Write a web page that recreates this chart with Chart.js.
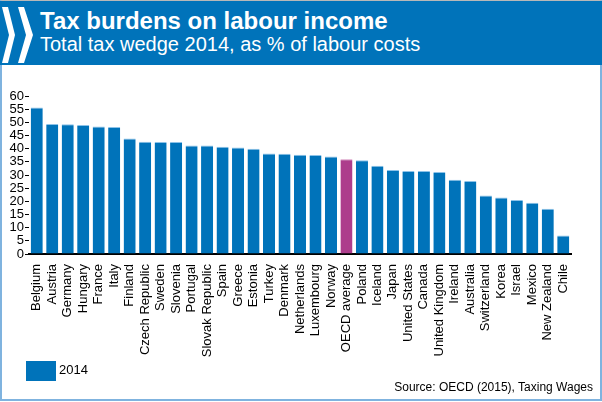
<!DOCTYPE html>
<html>
<head>
<meta charset="utf-8">
<script src="https://cdn.jsdelivr.net/npm/chart.js@4"></script>
<style>
  body { margin: 0; background: #fff; font-family: "Liberation Sans", Arial, sans-serif; }
  #frame { position: absolute; left: 0; top: 0; width: 602px; height: 401px; box-sizing: border-box;
           border-top: 1px solid #b8b8b8; border-left: 2px solid #7fb3df; border-right: 2px solid #7fb3df; border-bottom: 2px solid #7fb3df; }
  #head { position: absolute; left: 0; top: 1px; width: 602px; height: 64px; background: #0073ba; }
  #head svg { position: absolute; left: 0; top: 0; }
  #title { position: absolute; left: 40px; top: 6px; color: #fff; font-weight: bold; font-size: 24px; white-space: nowrap; }
  #sub { position: absolute; left: 40px; top: 32px; color: #fff; font-size: 20px; white-space: nowrap; }
  #box { position: absolute; left: 2px; top: 66px; width: 598px; height: 333px; }
  #legend { position: absolute; left: 26px; top: 361px; font-size: 13px; color: #000; }
  #legend span { display: inline-block; width: 30px; height: 20px; vertical-align: middle; margin-right: 3px; }
  #source { position: absolute; right: 9px; top: 380px; font-size: 12px; color: #000; white-space: nowrap; }
</style>
</head>
<body>
<div id="frame"></div>
<div id="head">
  <svg width="40" height="64">
    <polygon points="2,6 8,6 15,34 8,62 2,62 9,34" fill="#fff"/>
    <polygon points="18,6 24,6 33,34 24,62 18,62 26,34" fill="#fff"/>
  </svg>
  <div id="title">Tax burdens on labour income</div>
  <div id="sub">Total tax wedge 2014, as % of labour costs</div>
</div>
<div id="box"><canvas id="myChart"></canvas></div>
<div id="legend"></div>
<div id="source">Source: OECD (2015), Taxing Wages</div>
<script>
const countries = ['Belgium', 'Austria', 'Germany', 'Hungary', 'France', 'Italy', 'Finland',
  'Czech Republic', 'Sweden', 'Slovenia', 'Portugal', 'Slovak Republic', 'Spain', 'Greece',
  'Estonia', 'Turkey', 'Denmark', 'Netherlands', 'Luxembourg', 'Norway', 'OECD average',
  'Poland', 'Iceland', 'Japan', 'United States', 'Canada', 'United Kingdom', 'Ireland',
  'Australia', 'Switzerland', 'Korea', 'Israel', 'Mexico', 'New Zealand', 'Chile'];
const wedge2014 = [55.6, 49.4, 49.3, 49.0, 48.4, 48.2, 43.9, 42.6, 42.5, 42.5, 41.2, 41.2,
  40.7, 40.4, 40.0, 38.2, 38.1, 37.7, 37.6, 37.0, 36.0, 35.6, 33.5, 31.9, 31.5, 31.5, 31.1,
  28.2, 27.7, 22.2, 21.5, 20.5, 19.5, 17.2, 7.0];
const yTicks = [0, 5, 10, 15, 20, 25, 30, 35, 40, 45, 50, 55, 60];
const seriesName = '2014';
const highlight = 'OECD average';

const blue = '#0073ba';
const purple = '#ad3d8c';
const barColors = countries.map(c => c === highlight ? purple : blue);
const topColors = countries.map(c => c === highlight ? '#d58fbd' : '#8cc2e8');

const font = { family: '"Liberation Sans", Arial, sans-serif', size: 13 };

// simple html legend, bottom left like the original
document.getElementById('legend').innerHTML =
  '<span style="background:' + blue + '"></span>' + seriesName;

new Chart(document.getElementById('myChart'), {
  type: 'bar',
  data: {
    labels: countries,
    datasets: [{
      label: seriesName,
      data: wedge2014,
      backgroundColor: barColors,
      borderColor: topColors,
      borderWidth: { top: 1, left: 0, right: 0, bottom: 0 },
      borderSkipped: false,
      barPercentage: 0.78,
      categoryPercentage: 1
    }]
  },
  options: {
    responsive: true,
    maintainAspectRatio: false,
    animation: false,
    layout: { padding: { top: 30, right: 29, bottom: 38, left: 0 } },
    plugins: {
      tooltip: { enabled: false },
      legend: { display: false }
    },
    scales: {
      x: {
        z: 2,
        grid: { display: false },
        border: { display: true, color: '#000', width: 2 },
        ticks: { color: '#000', font: font, minRotation: 90, maxRotation: 90, autoSkip: false, padding: 2 },
        afterFit: s => { s.height = 107; }
      },
      y: {
        z: 1,
        min: 0,
        max: 60,
        afterBuildTicks: s => { s.ticks = yTicks.map(v => ({ value: v })); },
        grid: { color: 'rgba(255,255,255,0.45)', tickColor: '#000', tickLength: 4, lineWidth: 1 },
        border: { display: false },
        ticks: { color: '#000', font: font, padding: 1, autoSkip: false },
        afterFit: s => { s.width = 27; }
      }
    }
  }
});
</script>
</body>
</html>
